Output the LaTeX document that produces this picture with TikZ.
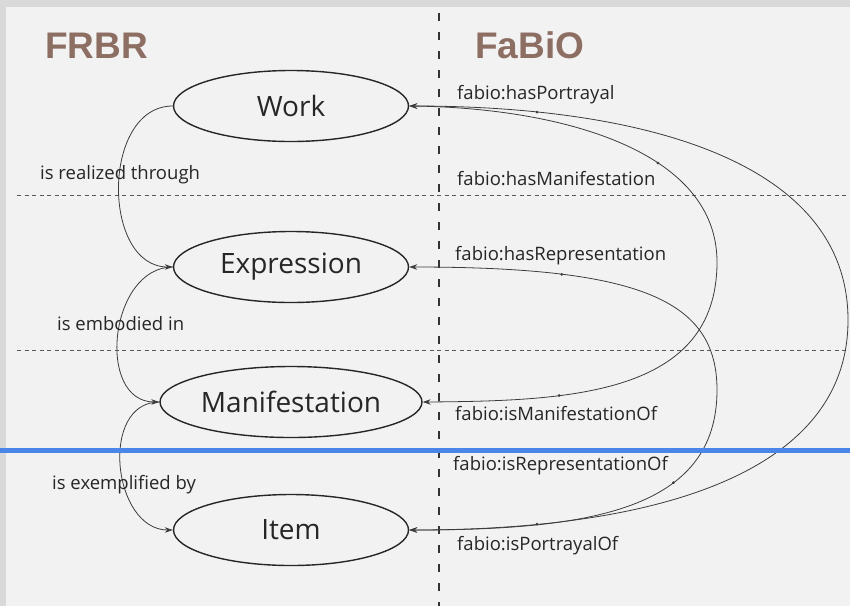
\documentclass[tikz,border=0pt]{standalone}
\usepackage{fontspec}
\setmainfont{Open Sans}
\newfontfamily\titlefont{Liberation Sans}
\usetikzlibrary{arrows.meta,shapes.geometric}
\definecolor{bgpanel}{HTML}{F2F2F2}
\definecolor{bgouter}{HTML}{D9D9D9}
\definecolor{titlebrown}{HTML}{8D6E63}
\definecolor{lineblue}{HTML}{4A86E8}
\definecolor{curvecol}{HTML}{3C3C3C}
\definecolor{textcol}{HTML}{262626}
\begin{document}
\begin{tikzpicture}[x=1pt,y=-1pt,
  ent/.style={ellipse, draw=textcol, line width=1.4pt, minimum width=235pt, minimum height=71pt, inner sep=0pt, font=\fontsize{28}{30}\selectfont, text=textcol},
  lbl/.style={font=\fontsize{18.5}{20}\selectfont, inner sep=0pt, anchor=base west, text=textcol},
  ttl/.style={font=\titlefont\bfseries\fontsize{37}{40}\selectfont, text=titlebrown, anchor=base west, inner sep=0pt},
  tip/.tip={Stealth[length=8pt,width=5.5pt]},
  rel/.style={draw=curvecol, line width=0.8pt, -tip},
  bi/.style={draw=curvecol, line width=0.8pt, tip-tip},
  dotm/.style={circle, fill=curvecol, inner sep=0pt, minimum size=3pt},
  sep/.style={draw=black!65, line width=0.7pt, dash pattern=on 4pt off 3.5pt}
]
\useasboundingbox (0,0) rectangle (850,606);
\fill[bgouter] (0,0) rectangle (850,606);
\fill[bgpanel] (6,7) rectangle (850,606);

% separators
\draw[sep] (17,195) -- (850,195);
\draw[sep] (17,350) -- (850,350);
\draw[black!80, line width=2.6pt, dash pattern=on 8pt off 11pt] (439,13) -- (439,606);

% titles
\node[ttl] (frbr) at (45,58) {FRBR};
\node[ttl] (fabio) at (475,58) {FaBiO};

% entities
\node[ent] (work) at (291,106) {Work};
\node[ent] (expr) at (291,267) {Expression};
\node[ent, minimum width=262pt] (manif) at (291,402) {Manifestation};
\node[ent] (item) at (291,530) {Item};

% FRBR relations
\draw[rel] (work.west) to[out=180,in=180,looseness=1.14] (expr.west);
\draw[rel] (expr.west) to[out=180,in=180,looseness=1.2] (manif.west);
\draw[rel] (manif.west) to[out=180,in=180,looseness=1.2] (item.west);

\node[lbl] (l1) at (40,179) {is realized through};
\node[lbl] (l2) at (57,330) {is embodied in};
\node[lbl] (l3) at (52,489) {is exemplified by};

% FaBiO relations
\coordinate (innerR) at (717,262);
\coordinate (outerR) at (848,320);
\coordinate (reprR) at (717,390);
\draw[bi] (work.east) .. controls (560,108) and (717,150) .. (innerR) node[dotm,pos=0.62] (d2) {}
  .. controls (717,395) and (570,401) .. (manif.east) node[dotm,pos=0.68] (d4) {};
\draw[bi] (work.east) .. controls (640,106) and (848,160) .. (outerR) node[dotm,pos=0.19] (d1) {}
  .. controls (848,480) and (640,530) .. (item.east) node[dotm,pos=0.81] (d6) {};
\draw[bi] (expr.east) .. controls (640,267) and (717,300) .. (reprR) node[dotm,pos=0.265] (d3) {}
  .. controls (717,510) and (590,530) .. (item.east) node[dotm,pos=0.35] (d5) {};

\node[lbl] (f1) at (457,99) {fabio:hasPortrayal};
\node[lbl] (f2) at (457,185) {fabio:hasManifestation};
\node[lbl] (f3) at (455,260) {fabio:hasRepresentation};
\node[lbl] (f4) at (455,420) {fabio:isManifestationOf};
\node[lbl] (f5) at (453,470) {fabio:isRepresentationOf};
\node[lbl] (f6) at (457,550) {fabio:isPortrayalOf};

% blue line
\draw[lineblue, line width=5pt] (0,450) -- (850,450);
\end{tikzpicture}
\end{document}
